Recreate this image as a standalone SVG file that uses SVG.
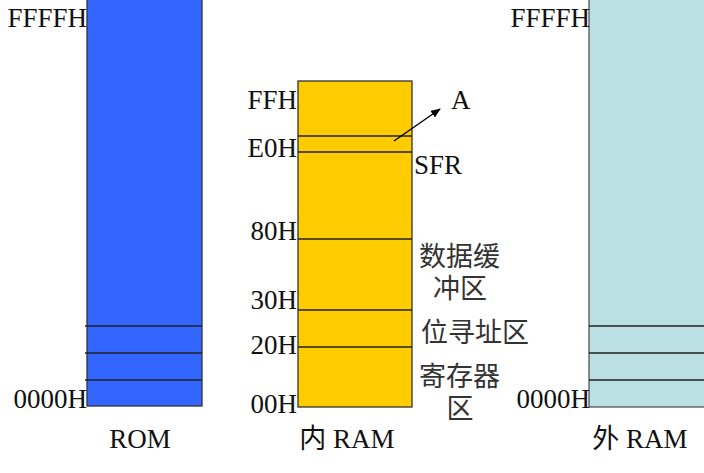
<svg xmlns="http://www.w3.org/2000/svg" width="704" height="473" viewBox="0 0 704 473">
<defs>
<style>
.t{font-family:"Liberation Serif","Noto Sans CJK SC",serif;font-size:27px;fill:#111}
.c{fill:#333}
.r{text-anchor:end}
.m{text-anchor:middle}
.ln{stroke:#222;stroke-width:1.3}
.bx{stroke:#333;stroke-width:1.3}
</style>
<marker id="ah" markerWidth="10" markerHeight="8" refX="9" refY="4" orient="auto" markerUnits="userSpaceOnUse">
<path d="M0,0 L10,4 L0,8 Z" fill="#000"/>
</marker>
</defs>
<rect width="704" height="473" fill="#fff"/>
<g id="rom">
<rect class="bx" x="87" y="-2" width="115" height="408" fill="#3366ff"/>
<line class="ln" x1="85" y1="326" x2="202" y2="326"/>
<line class="ln" x1="85" y1="353" x2="202" y2="353"/>
<line class="ln" x1="85" y1="380" x2="202" y2="380"/>
<text class="t r" x="87" y="27">FFFFH</text>
<text class="t r" x="87" y="408">0000H</text>
<text class="t m" x="140" y="448">ROM</text>
</g>
<g id="inram">
<rect class="bx" x="298" y="81" width="114" height="326" fill="#ffcc00"/>
<line class="ln" x1="298" y1="136" x2="412" y2="136"/>
<line class="ln" x1="298" y1="152" x2="412" y2="152"/>
<line class="ln" x1="298" y1="239" x2="412" y2="239"/>
<line class="ln" x1="298" y1="310" x2="412" y2="310"/>
<line class="ln" x1="298" y1="347" x2="412" y2="347"/>
<text class="t r" x="297" y="109">FFH</text>
<text class="t r" x="297" y="157">E0H</text>
<text class="t r" x="297" y="240">80H</text>
<text class="t r" x="297" y="309">30H</text>
<text class="t r" x="297" y="354">20H</text>
<text class="t r" x="297" y="413">00H</text>
<text class="t m" x="347" y="448">内 RAM</text>
<text class="t" x="451" y="109">A</text>
<text class="t" x="414" y="174">SFR</text>
<text class="t c" x="419" y="266">数据缓</text>
<text class="t c m" x="460" y="298">冲区</text>
<text class="t c" x="421" y="342">位寻址区</text>
<text class="t c" x="419" y="386">寄存器</text>
<text class="t c m" x="460" y="418">区</text>
</g>
<g id="exram">
<rect x="589" y="-2" width="120" height="409" fill="#bbe0e3" stroke="#555" stroke-width="1.3"/>
<line class="ln" x1="589" y1="326" x2="704" y2="326"/>
<line class="ln" x1="589" y1="353" x2="704" y2="353"/>
<line class="ln" x1="589" y1="380" x2="704" y2="380"/>
<text class="t r" x="590" y="27">FFFFH</text>
<text class="t r" x="590" y="408">0000H</text>
<text class="t m" x="640" y="448">外 RAM</text>
</g>
<g id="connectors">
<line x1="394" y1="141" x2="440" y2="109" stroke="#000" stroke-width="1.5" marker-end="url(#ah)"/>
</g>
</svg>
